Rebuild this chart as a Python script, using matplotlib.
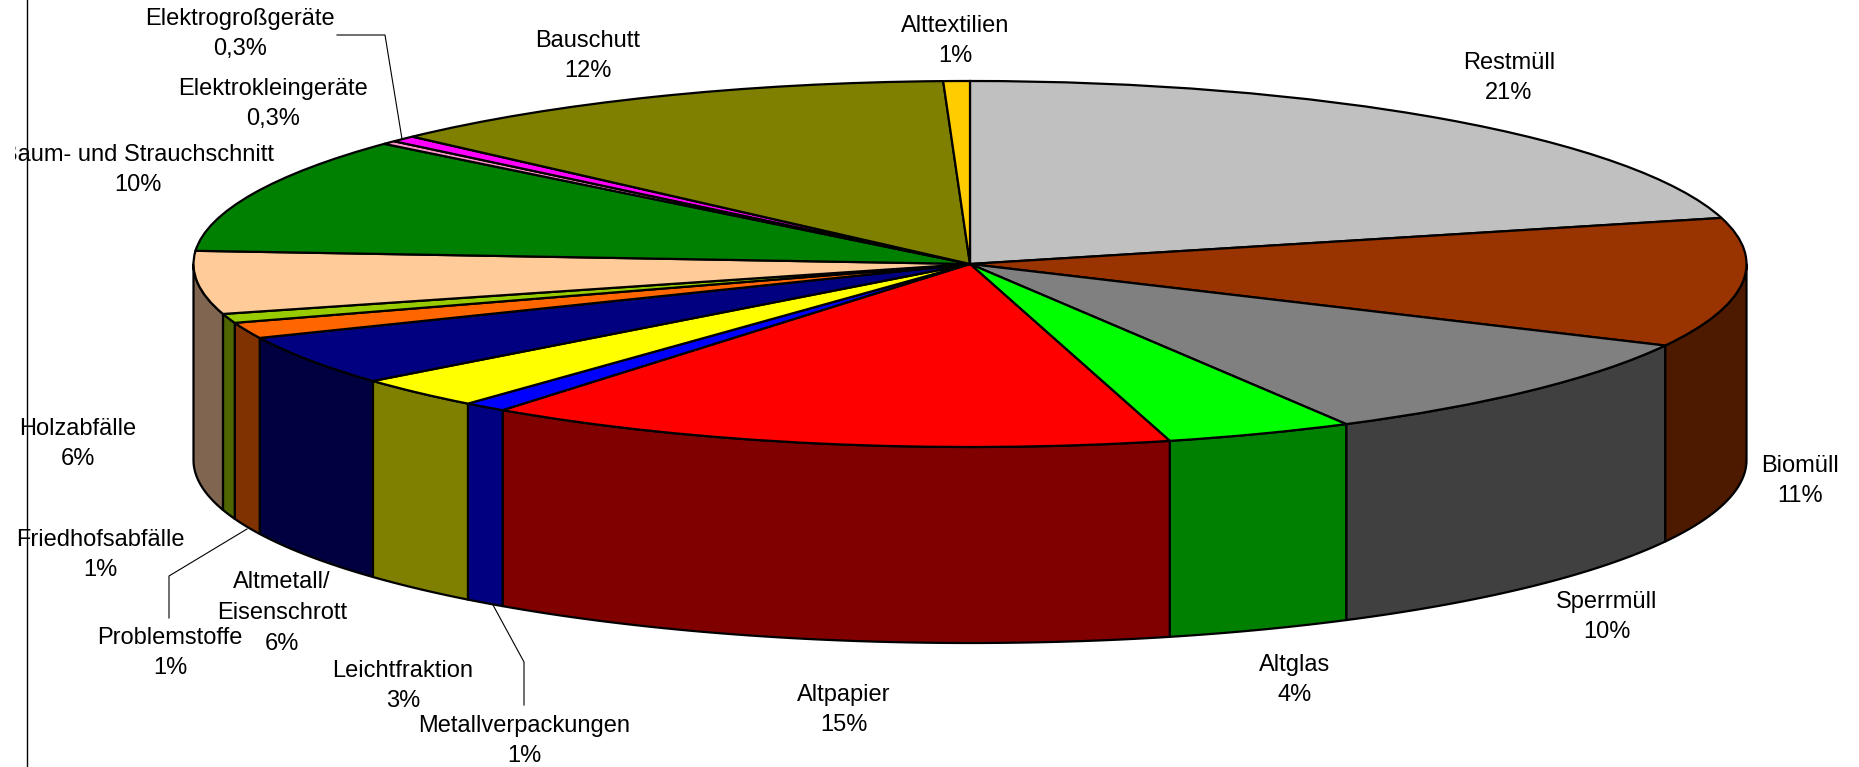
# abfall_torte.py
import numpy as np
import matplotlib
matplotlib.use('Agg')
import matplotlib.pyplot as plt
from matplotlib.patches import Polygon, Rectangle

plt.rcParams['font.family'] = ['Liberation Sans', 'DejaVu Sans']

# Anteile (im Uhrzeigersinn ab 12 Uhr)
kategorien = ['Restmüll', 'Biomüll', 'Sperrmüll', 'Altglas', 'Altpapier', 'Metallverpackungen',
              'Leichtfraktion', 'Altmetall/\nEisenschrott', 'Problemstoffe', 'Friedhofsabfälle',
              'Holzabfälle', 'Baum- und Strauchschnitt', 'Elektrokleingeräte', 'Elektrogroßgeräte',
              'Bauschutt', 'Alttextilien']
anteile = [20.95, 11.4, 9.6, 3.91, 14.42, 0.91, 2.77, 4.42, 1.41, 0.81, 5.55, 10.25, 0.3, 0.55, 12.2, 0.55]
beschriftung = ['21%', '11%', '10%', '4%', '15%', '1%', '3%', '6%', '1%', '1%', '6%', '10%',
                '0,3%', '0,3%', '12%', '1%']
farben = ['#C0C0C0', '#993300', '#808080', '#00FF00', '#FF0000', '#0000FF', '#FFFF00', '#000080',
          '#FF6600', '#99CC00', '#FFCC99', '#008000', '#FF99CC', '#FF00FF', '#808000', '#FFCC00']
seiten = ['#606060', '#4D1A00', '#404040', '#008000', '#800000', '#000080', '#808000', '#000040',
          '#803300', '#4D6600', '#806650', '#004000', '#804D66', '#800080', '#404000', '#806600']

# Label-Positionen in Bildpixeln (Mitte x, Mitte y)
label_pos = [(1509, 78), (1800, 481), (1607, 617), (1295, 680), (844, 710), (524, 741),
             (403, 686), (282, 613), (170, 653), (100, 555), (78, 444), (138, 170),
             (273, 104), (240, 34), (588, 56), (955, 41)]

B, H = 1859, 767
cx, cy, rx, ry = 970, 264, 776.5, 183
tiefe = 196


def px(x, y):
    # Bildpixel -> Kreiskoordinaten
    return (x - cx) / rx, (cy - y) / ry


fig = plt.figure(figsize=(B / 100, H / 100), dpi=100)
ax = fig.add_axes([0, 0, 1, 1])

# Oberseite
ax.pie(anteile, colors=farben, startangle=90, counterclock=False, radius=1, center=(0, 0),
       wedgeprops={'edgecolor': 'black', 'linewidth': 1.6, 'zorder': 3}, normalize=True)
ax.set_aspect('auto')
ax.set_xlim(px(0, 0)[0], px(B, 0)[0])
ax.set_ylim(px(0, H)[1], px(0, 0)[1])
ax.axis('off')

# Seitenwaende, sichtbar nur vorne (90 bis 270 Grad ab 12 Uhr)
grenzen = np.concatenate([[0], np.cumsum(anteile)]) / np.sum(anteile) * 360
dy = tiefe / ry
for i in range(len(anteile)):
    a = max(grenzen[i], 90)
    b = min(grenzen[i + 1], 270)
    if b <= a:
        continue
    t = np.radians(np.linspace(a, b, 60))
    x = np.sin(t)
    y = np.cos(t)
    pts = np.column_stack([np.r_[x, x[::-1]], np.r_[y, y[::-1] - dy]])
    ax.add_patch(Polygon(pts, closed=True, facecolor=seiten[i], edgecolor='black',
                         linewidth=1.6, zorder=2, joinstyle='round'))

# Beschriftung
for name, wert, pos in zip(kategorien, beschriftung, label_pos):
    tx, ty = px(*pos)
    t = ax.text(tx, ty, name + '\n' + wert, ha='center', va='center', fontsize=17,
                color='black', linespacing=1.5, zorder=5)
    if name.startswith('Baum'):
        # das B wird im Original abgeschnitten
        x0, y0 = px(15, H)
        x1, y1 = px(B, 0)
        t.set_clip_path(Rectangle((x0, y0), x1 - x0, y1 - y0, transform=ax.transData))
        t.set_clip_on(True)

# Fuehrungslinien
linien = [[(337, 35), (385, 35), (402, 139)],
          [(169, 618), (169, 576), (247, 529)],
          [(524, 705), (524, 662), (493, 605)]]
for linie in linien:
    p = np.array([px(*q) for q in linie])
    ax.plot(p[:, 0], p[:, 1], color='black', linewidth=0.8, zorder=4)

# senkrechte Linie links
lx = np.array([px(26.5, 0), px(26.5, H)])
ax.plot(lx[:, 0], lx[:, 1], color='black', linewidth=1.0, zorder=6)

fig.savefig('out.png', dpi=100)
